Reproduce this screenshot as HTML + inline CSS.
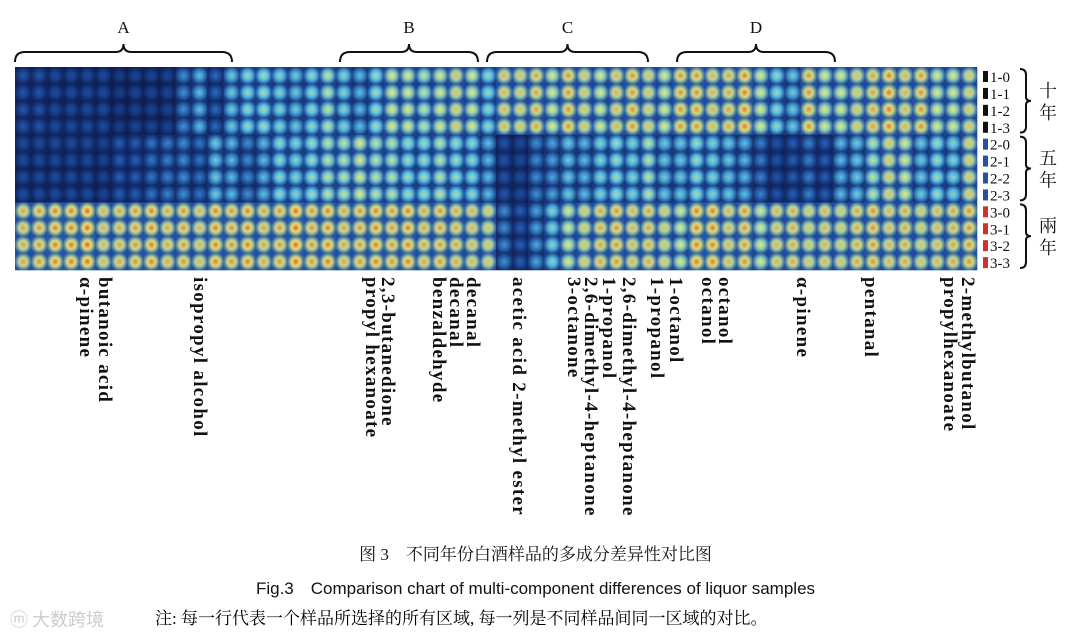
<!DOCTYPE html>
<html><head><meta charset="utf-8">
<style>
body{margin:0;width:1071px;height:639px;background:#fff;position:relative;overflow:hidden;font-family:"Liberation Serif","Noto Serif CJK SC",serif}
.lab{position:absolute;top:277px;writing-mode:vertical-rl;font-weight:bold;font-size:19px;letter-spacing:1.3px;line-height:15px;color:#111;white-space:nowrap}
.cap{position:absolute;width:1071px;text-align:center;font-size:17px;color:#111}
</style></head><body>
<svg id="chart" width="1071" height="639" style="position:absolute;left:0;top:0">
<defs id="defs"></defs>
<g id="cells"></g>
<g id="brackets" fill="none" stroke="#111" stroke-width="2"></g>
<g id="legend"></g>
</svg>
<div class="lab" style="left:78px">α-pinene</div>
<div class="lab" style="left:97px">butanoic acid</div>
<div class="lab" style="left:192px">isopropyl alcohol</div>
<div class="lab" style="left:364px">propyl hexanoate</div>
<div class="lab" style="left:380px">2,3-butanedione</div>
<div class="lab" style="left:431px">benzaldehyde</div>
<div class="lab" style="left:448px">decanal</div>
<div class="lab" style="left:465px">decanal</div>
<div class="lab" style="left:511px">acetic acid 2-methyl ester</div>
<div class="lab" style="left:566px">3-octanone</div>
<div class="lab" style="left:583px">2,6-dimethyl-4-heptanone</div>
<div class="lab" style="left:601px">1-propanol</div>
<div class="lab" style="left:621px">2,6-dimethyl-4-heptanone</div>
<div class="lab" style="left:649px">1-propanol</div>
<div class="lab" style="left:668px">1-octanol</div>
<div class="lab" style="left:700px">octanol</div>
<div class="lab" style="left:717px">octanol</div>
<div class="lab" style="left:795px">α-pinene</div>
<div class="lab" style="left:863px">pentanal</div>
<div class="lab" style="left:942px">propylhexanoate</div>
<div class="lab" style="left:960px">2-methylbutanol</div>
<div class="cap" style="top:540px">图 3　不同年份白酒样品的多成分差异性对比图</div>
<div class="cap" style="top:574px;font-family:'Liberation Sans',sans-serif;font-size:17px">Fig.3　Comparison chart of multi-component differences of liquor samples</div>
<div style="position:absolute;left:155px;top:604px;font-size:17px">注: 每一行代表一个样品所选择的所有区域, 每一列是不同样品间同一区域的对比。</div>
<div style="position:absolute;left:10px;top:606px;font-size:18px;color:#ccc;font-family:'Noto Sans CJK SC',sans-serif">ⓜ 大数跨境</div>
<script>
const groups=["十年","五年","兩年"];
const rowLabels=["1-0","1-1","1-2","1-3","2-0","2-1","2-2","2-3","3-0","3-1","3-2","3-3"];
const g1=[1.1,1.1,1.0,1.0,1.0,1.0,0.8,0.9,0.9,0.9,1.6,2,1.3,2.2,2.5,2.6,2.4,2.2,2.5,2.8,2.4,2,2.6,3,3,2.8,3,3.2,3,2.5,3.3,3.2,3.4,3,3.5,3.2,3,3.3,3.5,3.2,3,3.5,3.5,3.3,3.4,3.6,3,2.5,2.2,3.5,3,3,3.2,3.4,3.6,3.3,3.5,3,3,3.2];
const g2=[1.0,1.0,1.0,1.0,1.0,0.9,1.2,1.2,1.4,1.5,1.6,1.4,2.2,2,1.6,2,2.5,2.4,2.6,2.8,2.8,3,2.8,2.8,2.6,2.6,2.8,2.6,2.5,2,1.1,1.0,1.6,1.8,2.2,2,2.4,2.6,2.4,2.8,2.2,2.2,2.6,2.4,2.2,2,1.5,1.1,1.2,1.5,1.2,2,2.2,2.8,3.2,3,2.2,2.6,2.4,3.2];
const g3=[3.4,3.5,3.6,3.6,3.7,3.3,3.4,3.5,3.6,3.4,3.5,3.3,3.6,3.5,3.6,3.4,3.5,3.7,3.5,3.6,3.4,3.5,3.6,3.5,3.6,3.4,3.5,3.4,3.3,3.2,1.6,1.2,1.8,2.4,3,3.2,3.4,3.5,3.3,3.4,3.2,3,3.6,3.6,3.3,3.5,3,3.3,3.4,3.2,3.3,3.2,3.4,3.5,3.3,3.4,3.2,3.3,3.4,3.5];
const brackets=[["A",15,232],["B",340,478],["C",487,648],["D",677,835]];
const NS="http://www.w3.org/2000/svg";
const X0=15,X1=977,Y0=67,Y1=270,nc=g1.length,nr=12;
const cw=(X1-X0)/nc,rh=(Y1-Y0)/nr;
const xs=i=>X0+i*cw, ys=r=>Y0+r*rh;
const stops=[[8,15,55],[28,75,160],[90,195,235],[245,230,100],[220,40,25]];
function col(v){v=Math.max(0,Math.min(4,v));const i=Math.min(3,Math.floor(v)),t=v-i,a=stops[i],b=stops[i+1];return `rgb(${a.map((c,k)=>Math.round(c+(b[k]-c)*t)).join(',')})`;}
const defs=document.getElementById('defs'),cells=document.getElementById('cells');
const data=[g1,g2,g3];
let gid=0;
for(let r=0;r<nr;r++){const arr=data[Math.floor(r/4)];
 for(let c=0;c<nc;c++){const v=arr[c];
  const gr=document.createElementNS(NS,'radialGradient');gr.id='g'+(gid++);
  gr.setAttribute('r','0.55');
  [[0,col(v)],[0.45,col(v*0.78)],[1,col(v*0.3)]].forEach(([o,cc])=>{const s=document.createElementNS(NS,'stop');s.setAttribute('offset',o);s.setAttribute('stop-color',cc);gr.appendChild(s);});
  defs.appendChild(gr);
  const rc=document.createElementNS(NS,'rect');
  
  
  rc.setAttribute('x',xs(c));rc.setAttribute('y',ys(r));rc.setAttribute('width',cw+0.3);rc.setAttribute('height',rh+0.3);
  rc.setAttribute('fill','url(#'+gr.id+')');cells.appendChild(rc);
 }}
const bg=document.getElementById('brackets');
brackets.forEach(([t,a,b])=>{const m=(a+b)/2,y=62;
 const p=document.createElementNS(NS,'path');
 
 
 p.setAttribute('d',`M${a},${y} Q${a},${y-10} ${a+10},${y-10} L${m-8},${y-10} Q${m},${y-10} ${m},${y-18} Q${m},${y-10} ${m+8},${y-10} L${b-10},${y-10} Q${b},${y-10} ${b},${y}`);
 bg.appendChild(p);
 const tx=document.createElementNS(NS,'text');
 
 
 tx.setAttribute('x',m);tx.setAttribute('y',33);tx.setAttribute('text-anchor','middle');tx.setAttribute('font-size','17');tx.setAttribute('stroke','none');tx.setAttribute('fill','#111');tx.textContent=t;bg.appendChild(tx);
});
const lg=document.getElementById('legend');
const swc=['#111','#2a4fa0','#d03030'];
rowLabels.forEach((l,r)=>{const y=ys(r);
 const s=document.createElementNS(NS,'rect');
 
 
 s.setAttribute('x',983);s.setAttribute('y',y+4);s.setAttribute('width',5);s.setAttribute('height',11);s.setAttribute('fill',swc[Math.floor(r/4)]);lg.appendChild(s);
 const t=document.createElementNS(NS,'text');
 
 
 t.setAttribute('x',990);t.setAttribute('y',y+15);t.setAttribute('font-size','15');t.setAttribute('fill','#111');t.textContent=l;lg.appendChild(t);
});
groups.forEach((g,i)=>{const a=ys(i*4)+2,b=ys(i*4+4)-2,m=(a+b)/2,x=1020;
 const p=document.createElementNS(NS,'path');
 
 
 p.setAttribute('d',`M${x},${a} Q${x+6},${a} ${x+6},${a+6} L${x+6},${m-4} Q${x+6},${m} ${x+11},${m} Q${x+6},${m} ${x+6},${m+4} L${x+6},${b-6} Q${x+6},${b} ${x},${b}`);
 p.setAttribute('fill','none');p.setAttribute('stroke','#111');p.setAttribute('stroke-width','2');lg.appendChild(p);
 [...g].forEach((ch,k)=>{const t=document.createElementNS(NS,'text');
  
  
  t.setAttribute('x',1048);t.setAttribute('y',m-4+k*22);t.setAttribute('text-anchor','middle');t.setAttribute('font-size','18');t.setAttribute('fill','#111');t.textContent=ch;lg.appendChild(t);});
});
</script>
</body></html>
